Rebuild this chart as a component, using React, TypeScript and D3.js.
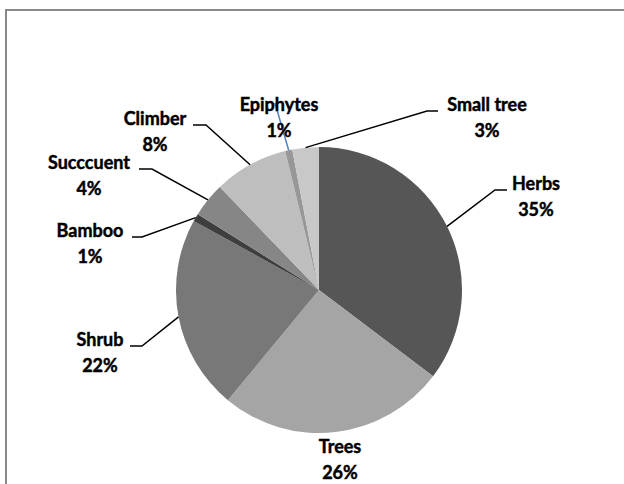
import React from "react";
import * as d3 from "d3";

const categories = ["Herbs", "Trees", "Shrub", "Bamboo", "Succcuent", "Climber", "Epiphytes", "Small tree"];
const values = [35.3, 25.7, 22.0, 0.9, 3.9, 8.4, 0.8, 3.0];
const colors = ["#565656", "#a5a5a5", "#787878", "#3e3e3e", "#868686", "#bebebe", "#979797", "#c8c8c8"];

// label layout (same order as categories): text center x, first baseline y, elbow x (null = none), leader end x
const labelX = [536, 340, 100, 90, 89, 155, 279, 487];
const labelY = [190, 453, 346, 237, 169, 125, 111, 111];
const elbowX: (number | null)[] = [495, null, 142, 142, 152, 206, null, 427];
const leaderEndX: (number | null)[] = [507, null, 130, 132, 139, 193, 275, 438];
const leaderColor = ["#000", "#000", "#000", "#000", "#000", "#000", "#4f81bd", "#000"];

const W = 624;
const H = 484;
const cx = 319;
const cy = 290;
const R = 143;

export default function App() {
  const pie = d3.pie<number>().sort(null).value((d) => d);
  const arcs = pie(values);
  const arc = d3.arc<d3.PieArcDatum<number>>().innerRadius(0).outerRadius(R);
  const total = d3.sum(values);
  const pct = values.map((v) => `${Math.round((v / total) * 100)}%`);

  return (
    <svg
      width={W}
      height={H}
      style={{ position: "absolute", left: 0, top: 0, background: "#fff" }}
      fontFamily="Lato, 'Open Sans', sans-serif"
      fontWeight={700}
      fontSize={18}
    >
      <rect x={6} y={10} width={W + 50} height={H + 50} fill="#fff" stroke="#898989" strokeWidth={2} />
      <g transform={`translate(${cx},${cy})`}>
        {arcs.map((a, i) => (
          <path key={i} d={arc(a) || ""} fill={colors[i]} />
        ))}
      </g>
      {arcs.map((a, i) => {
        if (leaderEndX[i] === null) return null;
        const mid = (a.startAngle + a.endAngle) / 2;
        const sx = cx + R * Math.sin(mid);
        const sy = cy - R * Math.cos(mid);
        const ly = labelY[i];
        let pts: [number, number][];
        if (elbowX[i] === null) {
          pts = [[sx, sy], [leaderEndX[i] as number, ly - 8]];
        } else {
          pts = [[sx, sy], [elbowX[i] as number, ly], [leaderEndX[i] as number, ly]];
        }
        return (
          <path
            key={"l" + i}
            d={d3.line()(pts) || ""}
            fill="none"
            stroke={leaderColor[i]}
            strokeWidth={1.5}
          />
        );
      })}
      {categories.map((c, i) => (
        <g key={"t" + i} fill="#000" stroke="#000" strokeWidth={0.45}>
          <text x={labelX[i]} y={labelY[i]} textAnchor="middle">{c}</text>
          <text x={labelX[i]} y={labelY[i] + 26} textAnchor="middle">{pct[i]}</text>
        </g>
      ))}
    </svg>
  );
}
